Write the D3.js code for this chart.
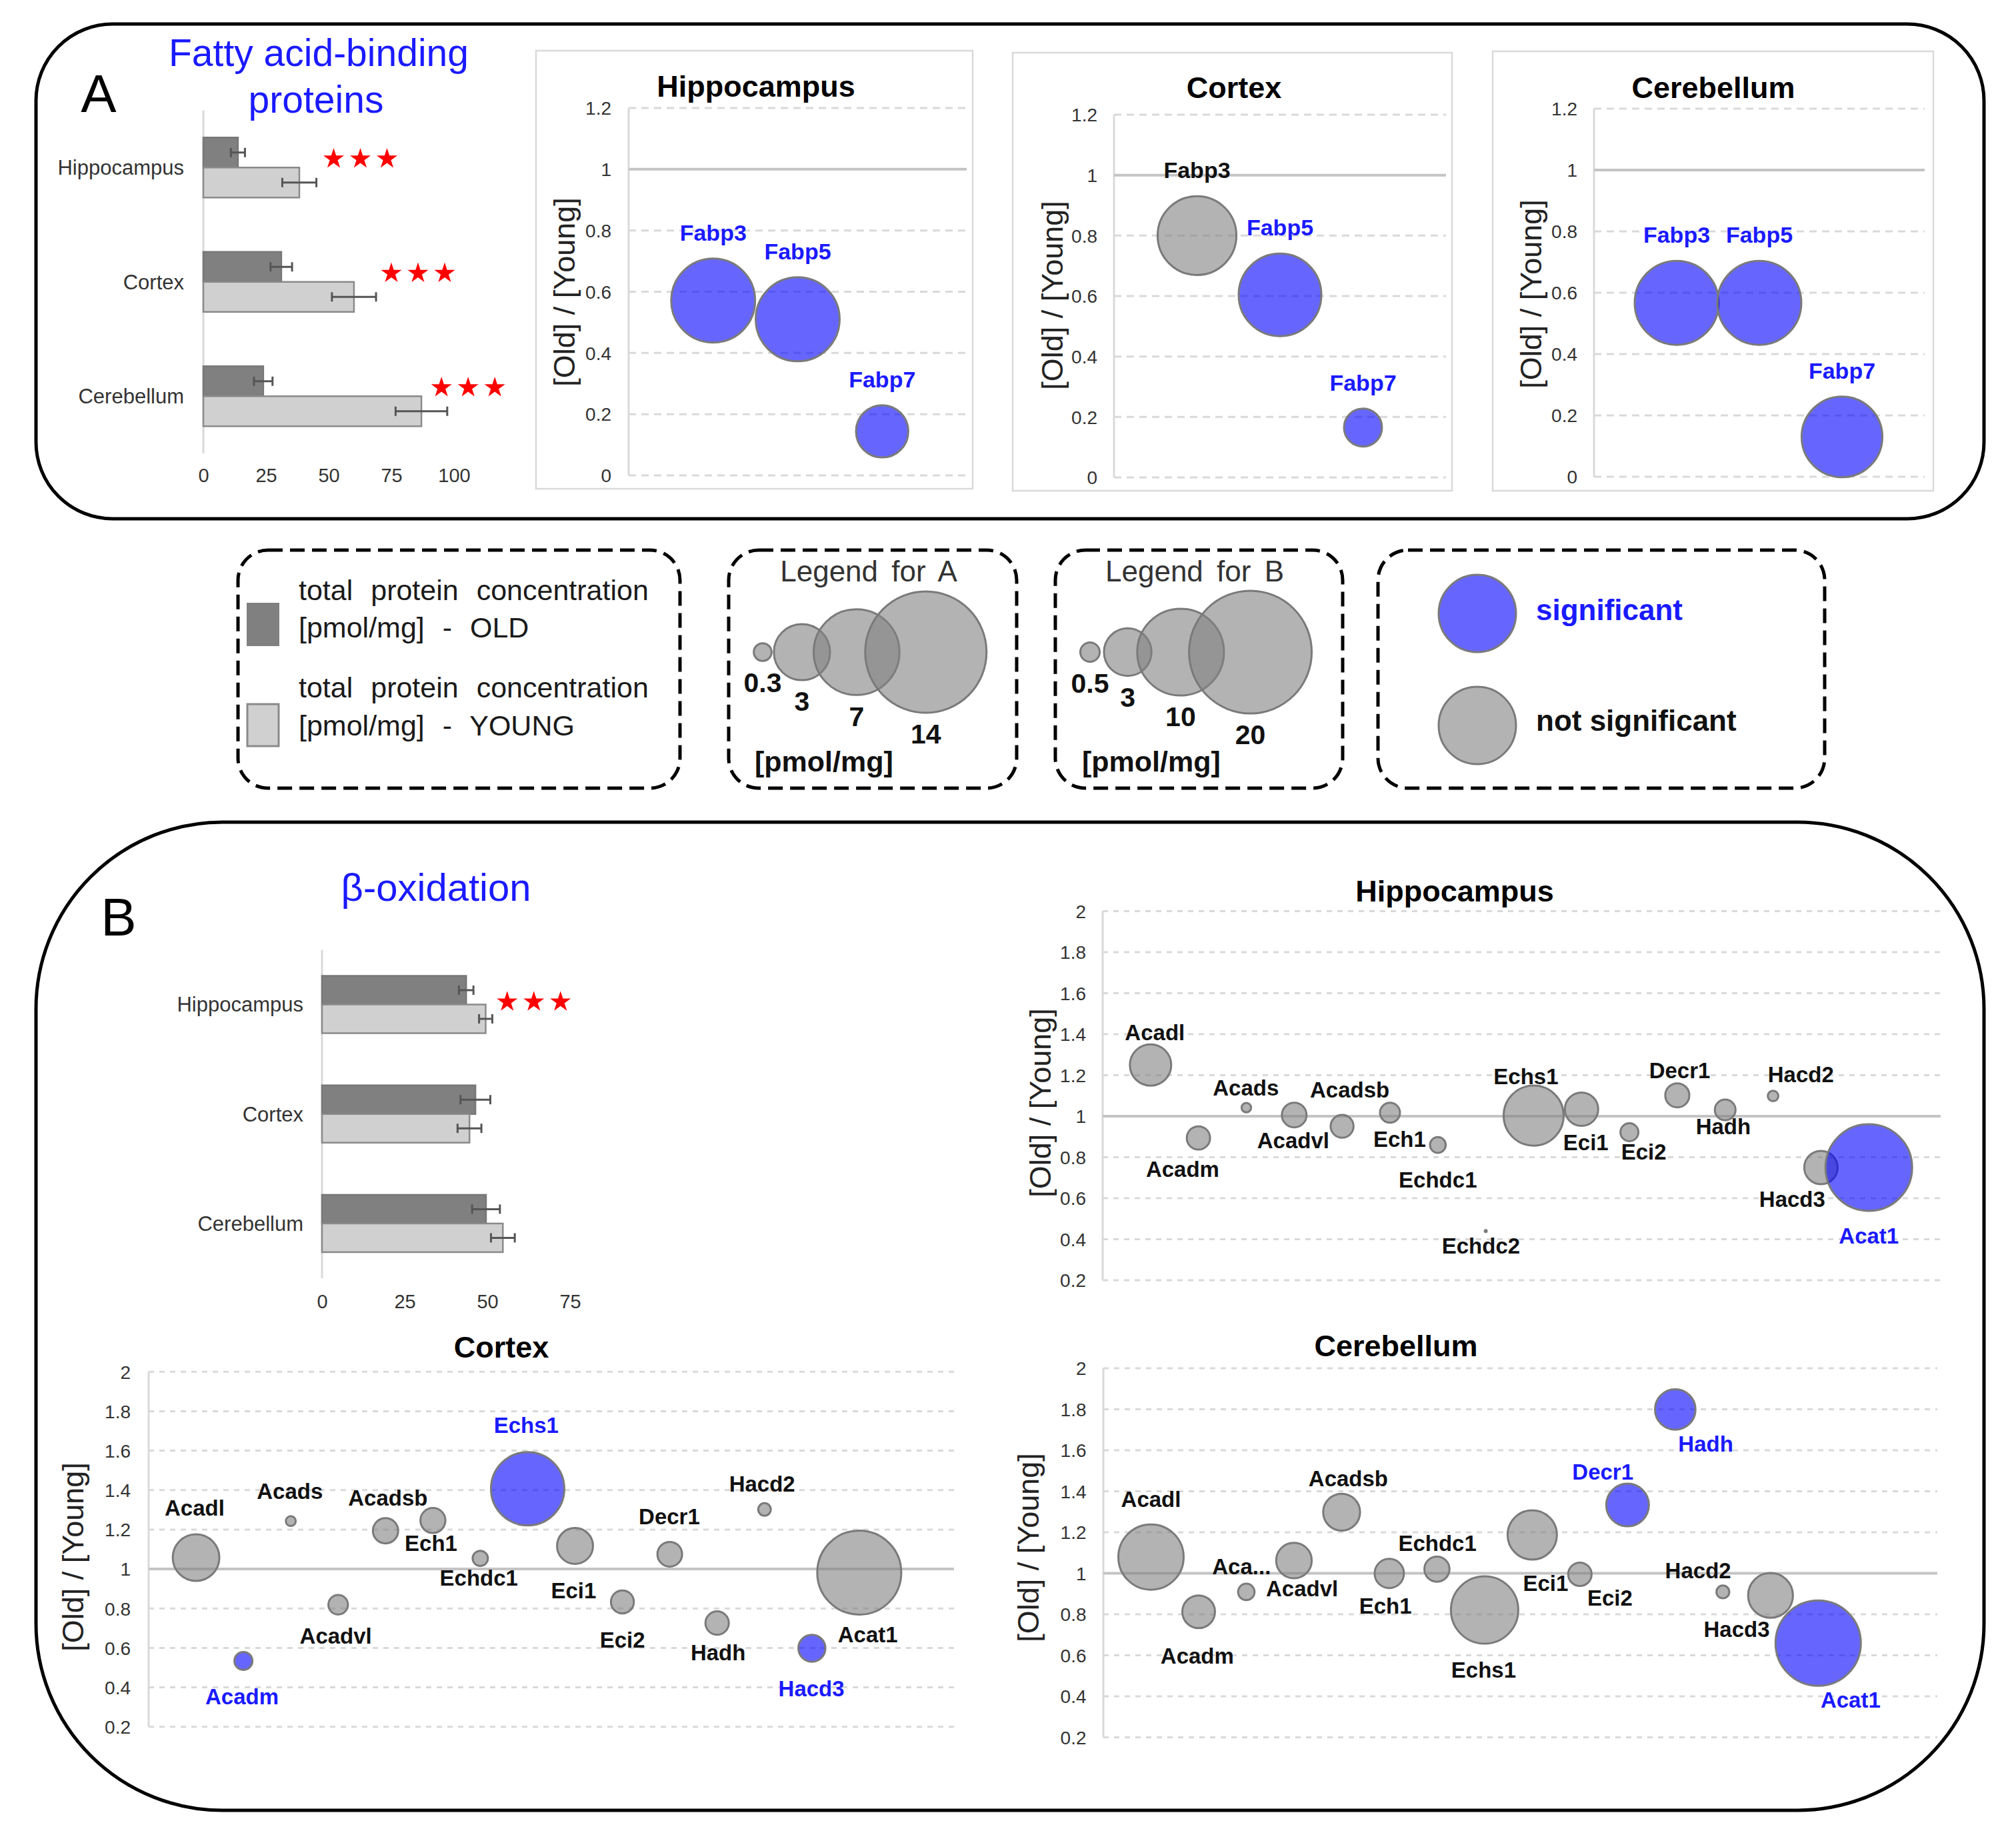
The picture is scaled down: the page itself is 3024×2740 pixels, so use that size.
<!DOCTYPE html>
<html><head><meta charset="utf-8">
<script src="https://cdn.jsdelivr.net/npm/d3@7"></script>
<style>body{margin:0;background:#fff} svg{display:block}</style>
</head><body>
<svg id="chart" width="3024" height="2740"></svg>
<script>
// ---------------- DATA ----------------
const regions = ["Hippocampus", "Cortex", "Cerebellum"];

// Panel A bar chart: total Fabp concentration [pmol/mg]
const fabpOld = [13.8, 31.1, 23.9];
const fabpOldErr = [2.8, 4.3, 3.7];
const fabpYoung = [38.3, 60.1, 87.0];
const fabpYoungErr = [6.8, 8.8, 10.3];
const fabpSigMark = [52, 75, 95];          // where "***" sits (pmol/mg)
const fabpBarTicks = [0, 25, 50, 75, 100];

// Panel B bar chart: total beta-oxidation concentration [pmol/mg]
const boxOld = [43.6, 46.4, 49.6];
const boxOldErr = [2.2, 4.5, 4.2];
const boxYoung = [49.5, 44.6, 54.7];
const boxYoungErr = [2.0, 3.6, 3.6];
const boxSigMark = [56, null, null];
const boxBarTicks = [0, 25, 50, 75];

// Panel A bubbles
const fabpGenes = ["Fabp3", "Fabp5", "Fabp7"];
const fabpRatioHip = [0.571, 0.510, 0.144];
const fabpConcHip = [6.7, 6.7, 2.6];
const fabpSigHip = [1, 1, 1];
const fabpRatioCtx = [0.800, 0.604, 0.165];
const fabpConcCtx = [5.9, 6.5, 1.37];
const fabpSigCtx = [0, 1, 1];
const fabpRatioCer = [0.567, 0.567, 0.130];
const fabpConcCer = [6.7, 6.7, 6.2];
const fabpSigCer = [1, 1, 1];
const ticksA = [0, 0.2, 0.4, 0.6, 0.8, 1, 1.2];

// Panel B bubbles
const genesHip = ["Acadl","Acadm","Acads","Acadvl","Acadsb","Ech1","Echdc1","Echdc2","Echs1","Eci1","Eci2","Decr1","Hadh","Hacd2","Hacd3","Acat1"];
const ratioHip = [1.250, 0.894, 1.042, 1.006, 0.951, 1.017, 0.860, 0.440, 1.003, 1.034, 0.922, 1.102, 1.031, 1.099, 0.750, 0.750];
const concHip  = [2.27, 0.72, 0.12, 0.81, 0.70, 0.53, 0.33, 0.005, 4.79, 1.48, 0.43, 0.77, 0.57, 0.15, 1.48, 9.98];
const sigHip   = [0,0,0,0,0,0,0,0,0,0,0,0,0,0,0,1];
const labelXHip = [1.09, 1.67, 2.99, 3.98, 5.16, 6.20, 7.00, 7.90, 8.84, 10.09, 11.30, 12.05, 12.96, 14.58, 14.40, 16.0];
const labelYHip = [1.408, 0.743, 1.138, 0.880, 1.130, 0.887, 0.691, 0.367, 1.195, 0.873, 0.826, 1.223, 0.949, 1.202, 0.594, 0.415];

const genesCtx = ["Acadl","Acadm","Acads","Acadvl","Acadsb","Ech1","Echdc1","Echs1","Eci1","Eci2","Decr1","Hadh","Hacd2","Hacd3","Acat1"];
const ratioCtx = [1.058, 0.534, 1.243, 0.819, 1.194, 1.246, 1.054, 1.407, 1.117, 0.833, 1.075, 0.726, 1.302, 0.598, 0.982];
const concCtx  = [2.89, 0.43, 0.13, 0.51, 0.85, 0.83, 0.31, 7.15, 1.72, 0.70, 0.81, 0.73, 0.21, 0.97, 9.38];
const sigCtx   = [0,1,0,0,0,0,0,1,0,0,0,0,0,1,0];
const labelXCtx = [0.97, 1.97, 2.98, 3.95, 5.05, 5.96, 6.97, 7.97, 8.97, 10.0, 10.99, 12.02, 12.95, 13.99, 15.18];
const labelYCtx = [1.310, 0.352, 1.395, 0.662, 1.362, 1.132, 0.954, 1.729, 0.890, 0.641, 1.267, 0.577, 1.431, 0.392, 0.669];

const genesCer = ["Acadl","Acadm","Aca...","Acadvl","Acadsb","Ech1","Echdc1","Echs1","Eci1","Eci2","Decr1","Hadh","Hacd2","Hacd3","Acat1"];
const ratioCer = [1.079, 0.812, 0.909, 1.062, 1.298, 0.999, 1.020, 0.821, 1.187, 0.995, 1.333, 1.799, 0.909, 0.892, 0.659];
const concCer  = [5.67, 1.42, 0.36, 1.68, 1.81, 1.14, 0.84, 6.03, 3.23, 0.73, 2.42, 2.18, 0.22, 2.67, 9.68];
const sigCer   = [0,0,0,0,0,0,0,0,0,0,1,1,0,0,1];
const labelXCer = [1.0, 1.97, 2.90, 4.17, 5.14, 5.92, 7.01, 7.98, 9.28, 10.63, 10.48, 12.64, 12.48, 13.29, 15.68];
const labelYCer = [1.361, 0.596, 1.034, 0.926, 1.461, 0.840, 1.145, 0.527, 0.951, 0.881, 1.493, 1.632, 1.013, 0.728, 0.381];
const ticksB = [0.2, 0.4, 0.6, 0.8, 1, 1.2, 1.4, 1.6, 1.8, 2];

// Legends
const legendAValues = [0.3, 3, 7, 14];
const legendBValues = [0.5, 3, 10, 20];

// ---------------- STYLE ----------------
const FONT = "'Liberation Sans', Arial, Helvetica, sans-serif";
const BLUE_TXT = "#1a1aff";
const BLUE_FILL = "rgba(0,0,255,0.6)";
const GRAY_FILL = "rgba(128,128,128,0.6)";
const BUBBLE_STROKE = "#7a7a7a";
const OLD_FILL = "#808080", YOUNG_FILL = "#d0d0d0";

const svg = d3.select("#chart");
svg.append("rect").attr("width", 3024).attr("height", 2740).attr("fill", "#fff");

function txt(g, x, y, s, o = {}) {
  return g.append("text").attr("x", x).attr("y", y).attr("dy", o.dy ?? "0.35em")
    .attr("text-anchor", o.anchor || "middle").attr("font-size", o.size || 30)
    .attr("font-weight", o.weight || "normal").attr("fill", o.fill || "#000")
    .attr("font-family", FONT).attr("word-spacing", o.ws || 0).text(s);
}

const rA = d3.scaleSqrt().domain([0, 14]).range([0, 91]);
const rB = d3.scaleSqrt().domain([0, 20]).range([0, 92]);

// ---------------- PANEL FRAMES ----------------
svg.append("rect").attr("x", 54).attr("y", 36).attr("width", 2922).attr("height", 742)
  .attr("rx", 115).attr("fill", "none").attr("stroke", "#000").attr("stroke-width", 5);
svg.append("rect").attr("x", 54).attr("y", 1233).attr("width", 2922).attr("height", 1482)
  .attr("rx", 280).attr("fill", "none").attr("stroke", "#000").attr("stroke-width", 5);

txt(svg, 148, 140, "A", { size: 80 });
txt(svg, 178, 1375, "B", { size: 80 });
txt(svg, 478, 79, "Fatty acid-binding", { size: 57, fill: BLUE_TXT });
txt(svg, 474, 149, "proteins", { size: 57, fill: BLUE_TXT });
txt(svg, 654, 1331, "β-oxidation", { size: 58, fill: BLUE_TXT });

// ---------------- BAR CHARTS ----------------
function barChart(L, old, oldErr, young, youngErr, sigMark, ticks) {
  const g = svg.append("g");
  const x = d3.scaleLinear().domain([0, L.xMax]).range([L.x0, L.x1]);
  const band = d3.scaleBand().domain(regions).range([L.yTop, L.yBot]).padding(0);
  const bh = L.barH;
  g.append("line").attr("x1", L.x0).attr("x2", L.x0).attr("y1", L.yTop).attr("y2", L.yBot)
    .attr("stroke", "#d9d9d9").attr("stroke-width", 3);
  const c = r => band(r) + band.bandwidth() / 2;
  const series = [
    { vals: old, err: oldErr, fill: OLD_FILL, stroke: "#777", off: -bh },
    { vals: young, err: youngErr, fill: YOUNG_FILL, stroke: "#8a8a8a", off: 0 }
  ];
  series.forEach(s => {
    g.selectAll(null).data(regions).join("rect")
      .attr("x", L.x0).attr("y", (r) => c(r) + s.off)
      .attr("width", (r, i) => x(s.vals[i]) - L.x0).attr("height", bh)
      .attr("fill", s.fill).attr("stroke", s.stroke).attr("stroke-width", 2.5);
    const eg = g.selectAll(null).data(regions).join("g").attr("stroke", "#555").attr("stroke-width", 3);
    eg.append("line").attr("x1", (r, i) => x(s.vals[i] - s.err[i])).attr("x2", (r, i) => x(s.vals[i] + s.err[i]))
      .attr("y1", r => c(r) + s.off + bh / 2).attr("y2", r => c(r) + s.off + bh / 2);
    [-1, 1].forEach(sg => {
      eg.append("line").attr("x1", (r, i) => x(s.vals[i] + sg * s.err[i])).attr("x2", (r, i) => x(s.vals[i] + sg * s.err[i]))
        .attr("y1", r => c(r) + s.off + bh / 2 - 7).attr("y2", r => c(r) + s.off + bh / 2 + 7);
    });
  });
  const star = d3.symbol().type(d3.symbolStar).size(300);
  regions.forEach((r, i) => {
    if (sigMark[i] == null) return;
    [0, 1, 2].forEach(k => {
      g.append("path").attr("d", star)
        .attr("transform", `translate(${x(sigMark[i]) + k * 40},${c(r) + L.starDy})`)
        .attr("fill", "#ff0000");
    });
  });
  const ya = g.append("g").attr("transform", `translate(${L.labelRight},0)`)
    .call(d3.axisLeft(band).tickSize(0).tickPadding(0));
  ya.select(".domain").remove();
  ya.selectAll("text").attr("font-size", 31).attr("font-family", FONT).attr("fill", "#333").attr("dy", "0.35em");
  const xa = g.append("g").attr("transform", `translate(0,${L.tickY})`)
    .call(d3.axisBottom(x).tickValues(ticks).tickSize(0).tickPadding(0));
  xa.select(".domain").remove();
  xa.selectAll("text").attr("font-size", 29).attr("font-family", FONT).attr("fill", "#333").attr("y", 0).attr("dy", "0.35em");
}

barChart({ x0: 305, x1: 681, xMax: 100, yTop: 165.5, yBot: 680, barH: 45, starDy: -13, labelRight: 276, tickY: 713 },
  fabpOld, fabpOldErr, fabpYoung, fabpYoungErr, fabpSigMark, fabpBarTicks);
barChart({ x0: 483, x1: 855, xMax: 75, yTop: 1424.4, yBot: 1917, barH: 43, starDy: -4, labelRight: 455, tickY: 1952 },
  boxOld, boxOldErr, boxYoung, boxYoungErr, boxSigMark, boxBarTicks);

// ---------------- BUBBLE CHARTS ----------------
function bubbleChart(L, genes, ratio, conc, sig, rScale, labelX, labelY) {
  const g = svg.append("g");
  const x = d3.scaleLinear().domain([0, L.xMax]).range([L.xL, L.xR]);
  const y = d3.scaleLinear().domain([L.yMin, L.yMax]).range([L.yBot, L.yTop]);
  if (L.frame) g.append("rect").attr("x", L.frame[0]).attr("y", L.frame[1])
    .attr("width", L.frame[2] - L.frame[0]).attr("height", L.frame[3] - L.frame[1])
    .attr("fill", "none").attr("stroke", "#d9d9d9").attr("stroke-width", 2.5);
  g.selectAll(null).data(L.ticks.filter(t => Math.abs(t - 1) > 1e-9)).join("line")
    .attr("x1", L.xL).attr("x2", L.xR).attr("y1", d => y(d)).attr("y2", d => y(d))
    .attr("stroke", "#d9d9d9").attr("stroke-width", 3).attr("stroke-dasharray", L.dash);
  g.append("line").attr("x1", L.xL).attr("x2", L.xL).attr("y1", y(L.yMax)).attr("y2", y(L.yMin))
    .attr("stroke", "#d9d9d9").attr("stroke-width", 3);
  g.append("line").attr("x1", L.xL).attr("x2", L.xR).attr("y1", y(1)).attr("y2", y(1))
    .attr("stroke", "#c4c4c4").attr("stroke-width", 4);
  const ax = g.append("g").attr("transform", `translate(${L.tickRight},0)`)
    .call(d3.axisLeft(y).tickValues(L.ticks).tickSize(0).tickPadding(0).tickFormat(d => String(+d.toFixed(1))));
  ax.select(".domain").remove();
  ax.selectAll("text").attr("font-size", L.tickSize).attr("font-family", FONT).attr("fill", "#333").attr("dy", "0.35em");
  txt(g, L.title[0], L.title[1], L.titleText, { size: 45, weight: "bold" });
  txt(g, 0, 0, "[Old] / [Young]", { size: 45, fill: "#222" })
    .attr("transform", `translate(${L.ylab[0]},${L.ylab[1]}) rotate(-90)`);
  const idx = genes.map((_, i) => i);
  g.selectAll(null).data(idx).join("circle")
    .attr("cx", i => x(i + 1)).attr("cy", i => y(ratio[i])).attr("r", i => rScale(conc[i]))
    .attr("fill", i => sig[i] ? BLUE_FILL : GRAY_FILL)
    .attr("stroke", BUBBLE_STROKE).attr("stroke-width", 3);
  g.selectAll(null).data(idx).join("text")
    .attr("x", i => labelX ? x(labelX[i]) : x(i + 1))
    .attr("y", i => labelY ? y(labelY[i]) : y(ratio[i]) - rScale(conc[i]) - 39)
    .attr("dy", "0.35em").attr("text-anchor", "middle")
    .attr("font-size", L.labelSize).attr("font-weight", "bold").attr("font-family", FONT)
    .attr("fill", i => sig[i] ? BLUE_TXT : "#111").text(i => genes[i]);
}

const baseA = { xMax: 4, yMin: 0, yMax: 1.2, ticks: ticksA, dash: "11,8", tickSize: 28, labelSize: 34 };
bubbleChart({ ...baseA, xL: 943, xR: 1450, yTop: 162, yBot: 713, tickRight: 917,
  frame: [804, 76, 1459, 733], title: [1134, 129], titleText: "Hippocampus", ylab: [846, 438] },
  fabpGenes, fabpRatioHip, fabpConcHip, fabpSigHip, rA);
bubbleChart({ ...baseA, xL: 1671, xR: 2169, yTop: 172, yBot: 716, tickRight: 1646,
  frame: [1519, 79, 2178, 736], title: [1851, 131], titleText: "Cortex", ylab: [1578, 443] },
  fabpGenes, fabpRatioCtx, fabpConcCtx, fabpSigCtx, rA);
bubbleChart({ ...baseA, xL: 2391, xR: 2887, yTop: 163, yBot: 715, tickRight: 2366,
  frame: [2239, 77, 2900, 736], title: [2570, 131], titleText: "Cerebellum", ylab: [2296, 441] },
  fabpGenes, fabpRatioCer, fabpConcCer, fabpSigCer, rA);

const baseB = { yMin: 0.2, yMax: 2, ticks: ticksB, dash: "8,8", tickSize: 28, labelSize: 33 };
bubbleChart({ ...baseB, xMax: 17.5, xL: 1654, xR: 2911, yTop: 1366.6, yBot: 1920, tickRight: 1629,
  title: [2182, 1336], titleText: "Hippocampus", ylab: [1560, 1654] },
  genesHip, ratioHip, concHip, sigHip, rB, labelXHip, labelYHip);
bubbleChart({ ...baseB, xMax: 17, xL: 223, xR: 1431, yTop: 2057.3, yBot: 2589.7, tickRight: 196,
  title: [752, 2020], titleText: "Cortex", ylab: [109, 2335] },
  genesCtx, ratioCtx, concCtx, sigCtx, rB, labelXCtx, labelYCtx);
bubbleChart({ ...baseB, xMax: 17.5, xL: 1655, xR: 2906, yTop: 2052, yBot: 2605.4, tickRight: 1629.5,
  title: [2094, 2018], titleText: "Cerebellum", ylab: [1542, 2321] },
  genesCer, ratioCer, concCer, sigCer, rB, labelXCer, labelYCer);

// ---------------- LEGENDS ----------------
function dashedBox(x0, y0, x1, y1) {
  svg.append("rect").attr("x", x0).attr("y", y0).attr("width", x1 - x0).attr("height", y1 - y0)
    .attr("rx", 45).attr("fill", "none").attr("stroke", "#000").attr("stroke-width", 5)
    .attr("stroke-dasharray", "22,11");
}
dashedBox(357, 825, 1020, 1182);
dashedBox(1093, 825, 1525, 1182);
dashedBox(1583, 825, 2014, 1182);
dashedBox(2067, 825, 2737, 1182);

// bar legend
svg.append("rect").attr("x", 370).attr("y", 904).attr("width", 49).attr("height", 65).attr("fill", OLD_FILL);
svg.append("rect").attr("x", 371).attr("y", 1056).attr("width", 47).attr("height", 63).attr("fill", YOUNG_FILL)
  .attr("stroke", "#8a8a8a").attr("stroke-width", 3);
[["total protein concentration", 885], ["[pmol/mg] - OLD", 941],
 ["total protein concentration", 1031], ["[pmol/mg] - YOUNG", 1088]].forEach(([s, yy]) =>
  txt(svg, 448, yy, s, { size: 43, anchor: "start", fill: "#1a1a1a", ws: 15 }));

// size legends
function sizeLegend(title, cx, values, rScale, firstX) {
  const g = svg.append("g");
  txt(g, cx, 857, title, { size: 44, fill: "#333", ws: 8 });
  const xs = [];
  values.forEach((v, i) => {
    xs.push(i === 0 ? firstX : xs[i - 1] + 0.45 * (rScale(values[i - 1]) + rScale(v)) + 34);
  });
  g.selectAll(null).data(values).join("circle")
    .attr("cx", (v, i) => xs[i]).attr("cy", 978).attr("r", v => rScale(v))
    .attr("fill", GRAY_FILL).attr("stroke", BUBBLE_STROKE).attr("stroke-width", 3);
  g.selectAll(null).data(values).join("text")
    .attr("x", (v, i) => xs[i]).attr("y", v => 978 + rScale(v) + 32).attr("dy", "0.35em")
    .attr("text-anchor", "middle").attr("font-size", 41).attr("font-weight", "bold")
    .attr("font-family", FONT).attr("fill", "#111").text(v => String(v));
  txt(g, firstX - 12, 1142, "[pmol/mg]", { size: 43, weight: "bold", anchor: "start", fill: "#111" });
}
sizeLegend("Legend for A", 1303, legendAValues, rA, 1144);
sizeLegend("Legend for B", 1792, legendBValues, rB, 1635);

// significance legend
svg.append("circle").attr("cx", 2216).attr("cy", 920).attr("r", 58).attr("fill", BLUE_FILL)
  .attr("stroke", BUBBLE_STROKE).attr("stroke-width", 3);
svg.append("circle").attr("cx", 2216).attr("cy", 1088).attr("r", 58).attr("fill", GRAY_FILL)
  .attr("stroke", BUBBLE_STROKE).attr("stroke-width", 3);
txt(svg, 2304, 915, "significant", { size: 44, weight: "bold", anchor: "start", fill: BLUE_TXT });
txt(svg, 2304, 1081, "not significant", { size: 44, weight: "bold", anchor: "start", fill: "#111" });
</script>
</body></html>
